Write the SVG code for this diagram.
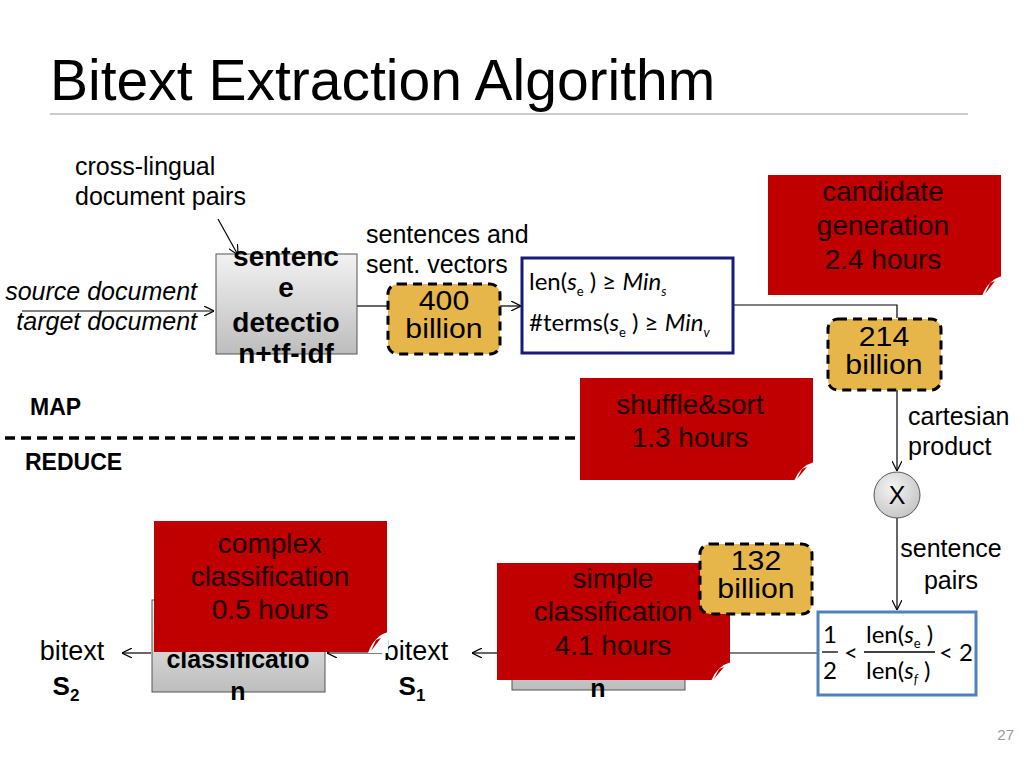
<svg xmlns="http://www.w3.org/2000/svg" width="1024" height="768" viewBox="0 0 1024 768">
<defs>
<linearGradient id="gray" x1="0" y1="0" x2="0" y2="1">
<stop offset="0" stop-color="#f2f2f2"/><stop offset="1" stop-color="#bdbdbd"/>
</linearGradient>
<radialGradient id="gcirc" cx="0.4" cy="0.35" r="0.7">
<stop offset="0" stop-color="#f4f4f4"/><stop offset="1" stop-color="#c4c4c4"/>
</radialGradient>
<marker id="arr" viewBox="0 0 10 10" refX="10" refY="5" markerWidth="10" markerHeight="10" markerUnits="userSpaceOnUse" orient="auto">
<path d="M0,0 L10,5 L0,10" fill="none" stroke="#000" stroke-width="1.2"/>
</marker>
</defs>
<style>
text{font-family:"Liberation Sans",Arial,sans-serif;fill:#000}
.lbl{font-size:25px}
.bold{font-weight:bold;font-size:28px}
.bold2{font-weight:bold;font-size:25px}
.note{fill:#c00000}
.nt{font-size:28px;fill:#1a0000;text-anchor:middle}
.curl{fill:#fff}
.fold{fill:#c00000}
.cnt{fill:#e6b64b;stroke:#000;stroke-width:3;stroke-dasharray:9 6}
.ct{font-size:27px;text-anchor:middle}
.gbox{fill:url(#gray);stroke:#555;stroke-width:1}
.conn{fill:none;stroke:#000;stroke-width:1.2}
.f{font-family:Lato,"Open Sans",sans-serif;font-size:24px}
.it{font-style:italic}
.sub{font-size:13px}
</style>
<rect width="1024" height="768" fill="#fff"/>
<g id="title">
<text x="50" y="100" style="font-size:57px">Bitext Extraction Algorithm</text>
<line x1="50" y1="114" x2="968" y2="114" stroke="#999" stroke-width="1"/>
</g>
<text x="1014" y="740" style="font-size:15px;fill:#999;text-anchor:end">27</text>

<g id="connectors">
<line class="conn" x1="22" y1="311" x2="214" y2="311" marker-end="url(#arr)"/>
<line class="conn" x1="218" y1="219" x2="238" y2="255" marker-end="url(#arr)"/>
<line class="conn" x1="357" y1="306" x2="388" y2="306"/>
<line class="conn" x1="500" y1="306" x2="521" y2="306" marker-end="url(#arr)"/>
<polyline class="conn" points="733,305 897,305 897,318"/>
<line class="conn" x1="897" y1="390" x2="897" y2="471" marker-end="url(#arr)"/>
<line class="conn" x1="897" y1="518" x2="897" y2="610" marker-end="url(#arr)"/>
<line class="conn" x1="818" y1="653" x2="730" y2="653"/>
<line class="conn" x1="497" y1="653" x2="472" y2="653" marker-end="url(#arr)"/>
<line class="conn" x1="382" y1="653" x2="327" y2="653" marker-end="url(#arr)"/>
<line class="conn" x1="151" y1="653" x2="122" y2="653" marker-end="url(#arr)"/>
<line x1="5" y1="438" x2="580" y2="438" stroke="#000" stroke-width="3.5" stroke-dasharray="10 6"/>
</g>

<g id="labels">
<text class="lbl" x="75" y="175">cross-lingual</text>
<text class="lbl" x="75" y="205">document pairs</text>
<text class="lbl it" x="197" y="300" text-anchor="end">source document</text>
<text class="lbl it" x="197" y="330" text-anchor="end">target document</text>
<text class="lbl" x="366" y="243">sentences and</text>
<text class="lbl" x="366" y="273">sent. vectors</text>
<text class="lbl" x="908" y="425">cartesian</text>
<text class="lbl" x="908" y="455">product</text>
<text class="lbl" x="951" y="557" text-anchor="middle">sentence</text>
<text class="lbl" x="951" y="589" text-anchor="middle">pairs</text>
<text x="30" y="415" style="font-size:23px;font-weight:bold">MAP</text>
<text x="25" y="470" style="font-size:23px;font-weight:bold">REDUCE</text>
</g>

<g id="sentence-detection">
<rect class="gbox" x="216" y="254" width="141" height="100"/>
<text class="bold" x="286" y="266" text-anchor="middle">sentenc</text>
<text class="bold" x="286" y="297" text-anchor="middle">e</text>
<text class="bold" x="286" y="332" text-anchor="middle">detectio</text>
<text class="bold" x="286" y="363" text-anchor="middle">n+tf-idf</text>
</g>

<g id="count-400">
<rect class="cnt" x="388" y="284" width="112" height="70" rx="10"/>
<text class="ct" transform="translate(444,310) scale(1.12,1)">400</text>
<text class="ct" transform="translate(444,338) scale(1.12,1)">billion</text>
</g>

<g id="filter">
<rect x="522" y="258" width="211" height="95" fill="#fff" stroke="#1a1a7a" stroke-width="3"/>
<text class="f" x="529" y="290">len(<tspan class="it">s</tspan><tspan class="sub" dy="6">e</tspan><tspan dy="-6"> ) ≥ </tspan><tspan class="it">Min</tspan><tspan class="sub it" dy="6">s</tspan></text>
<text class="f" x="529" y="331">#terms(<tspan class="it">s</tspan><tspan class="sub" dy="6">e</tspan><tspan dy="-6"> ) ≥ </tspan><tspan class="it">Min</tspan><tspan class="sub it" dy="6">v</tspan></text>
</g>

<g id="note-candidate">
<rect class="note" x="768" y="175" width="233" height="120"/>
<path class="curl" d="M1002,276 Q988,280 982,296 L1002,296 Z"/>
<path class="fold" d="M985,294 L990,283 L995,281 Z"/>
<text class="nt" x="883" y="201">candidate</text>
<text class="nt" x="883" y="235">generation</text>
<text class="nt" x="883" y="269">2.4 hours</text>
</g>

<g id="count-214">
<rect class="cnt" x="828" y="319" width="113" height="71" rx="10"/>
<text class="ct" transform="translate(884,346) scale(1.12,1)">214</text>
<text class="ct" transform="translate(884,374) scale(1.12,1)">billion</text>
</g>

<g id="note-shuffle">
<rect class="note" x="580" y="378" width="233" height="102"/>
<path class="curl" d="M814,462 Q800,466 794,481 L814,481 Z"/>
<path class="fold" d="M797,479 L802,469 L807,467 Z"/>
<text class="nt" x="690" y="414">shuffle&amp;sort</text>
<text class="nt" x="690" y="447">1.3 hours</text>
</g>

<g id="cartesian">
<circle cx="897" cy="495" r="23" fill="url(#gcirc)" stroke="#555" stroke-width="1"/>
<text x="897" y="504" style="font-size:25px;text-anchor:middle">X</text>
</g>

<g id="length-ratio">
<rect x="818" y="612" width="158" height="83" fill="#fff" stroke="#4f81bd" stroke-width="3"/>
<text class="f" x="830" y="643" text-anchor="middle">1</text>
<line x1="822" y1="652" x2="838" y2="652" stroke="#000" stroke-width="1.3"/>
<text class="f" x="830" y="679" text-anchor="middle">2</text>
<text class="f" x="844" y="661">&lt;</text>
<text class="f" x="866" y="643">len(<tspan class="it">s</tspan><tspan class="sub" dy="5">e</tspan><tspan dy="-5"> )</tspan></text>
<line x1="864" y1="652" x2="935" y2="652" stroke="#000" stroke-width="1.3"/>
<text class="f" x="866" y="679">len(<tspan class="it">s</tspan><tspan class="sub it" dy="5">f</tspan><tspan dy="-5"> )</tspan></text>
<text class="f" x="939" y="661">&lt; 2</text>
</g>

<g id="simple-classification">
<rect class="gbox" x="512" y="600" width="173" height="90"/>
<text class="bold2" x="598" y="697" text-anchor="middle">n</text>
</g>

<g id="note-simple">
<rect class="note" x="497" y="563" width="233" height="117"/>
<path class="curl" d="M731,662 Q717,666 711,681 L731,681 Z"/>
<path class="fold" d="M714,679 L719,669 L724,667 Z"/>
<text class="nt" x="613" y="588">simple</text>
<text class="nt" x="613" y="621">classification</text>
<text class="nt" x="613" y="655">4.1 hours</text>
</g>

<g id="count-132">
<rect class="cnt" x="700" y="544" width="112" height="70" rx="10"/>
<text class="ct" transform="translate(756,570) scale(1.12,1)">132</text>
<text class="ct" transform="translate(756,598) scale(1.12,1)">billion</text>
</g>

<g id="bitext-s1">
<text class="lbl" x="416" y="660" text-anchor="middle" style="font-size:27px">bitext</text>
<text x="412" y="695" style="font-size:26px;font-weight:bold;text-anchor:middle">S<tspan dy="6" style="font-size:17px">1</tspan></text>
</g>

<g id="complex-classification">
<rect class="gbox" x="152" y="600" width="173" height="92"/>
<text class="bold2" x="238" y="668" text-anchor="middle">classificatio</text>
<text class="bold2" x="238" y="700" text-anchor="middle">n</text>
</g>

<g id="note-complex">
<rect class="note" x="154" y="521" width="233" height="131"/>
<path class="curl" d="M388,632 Q374,636 368,653 L388,653 Z"/>
<path class="fold" d="M371,651 L376,640 L381,638 Z"/>
<text class="nt" x="270" y="553">complex</text>
<text class="nt" x="270" y="586">classification</text>
<text class="nt" x="270" y="619">0.5 hours</text>
</g>

<g id="bitext-s2">
<text class="lbl" x="72" y="660" text-anchor="middle" style="font-size:27px">bitext</text>
<text x="66" y="695" style="font-size:26px;font-weight:bold;text-anchor:middle">S<tspan dy="6" style="font-size:17px">2</tspan></text>
</g>
</svg>
